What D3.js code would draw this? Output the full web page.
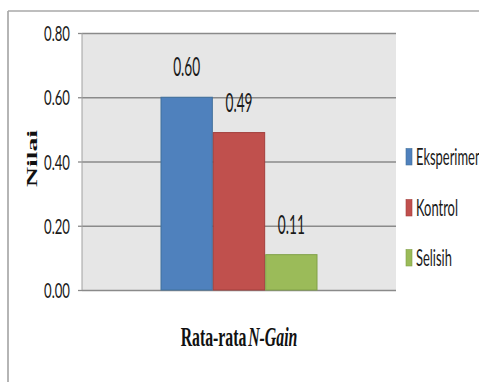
<!DOCTYPE html>
<html>
<head>
<meta charset="utf-8">
<script src="https://cdn.jsdelivr.net/npm/d3@7"></script>
<style>
  html, body { margin: 0; padding: 0; background: #fff; }
  svg { display: block; }
</style>
</head>
<body>
<svg id="chart" width="479" height="382"></svg>
<script>
// N-Gain averages per group
const categories = ["Rata-rata N-Gain"];
const series = ["Eksperimen", "Kontrol", "Selisih"];
const values = [0.60, 0.49, 0.11];
const seriesColors = ["#4F81BD", "#C0504D", "#9BBB59"];
const seriesStrokes = ["#41719C", "#A33F3C", "#80A048"];
const yTicks = [0.00, 0.20, 0.40, 0.60, 0.80];
const yTickLabels = ["0.00", "0.20", "0.40", "0.60", "0.80"];
const valueLabels = ["0.60", "0.49", "0.11"];

const svg = d3.select("#chart");
const W = 479, H = 382;
const plot = { left: 82, right: 396, top: 33, bottom: 290 };
const sansFont = "Lato, 'Open Sans', 'Liberation Sans', sans-serif";
const serifFont = "'Liberation Serif', 'Times New Roman', serif";

// Squeeze a text element horizontally so it spans the given width,
// anchored at (x, y) with the given alignment.
function fit(textSel, x, y, width, align) {
  const node = textSel.node();
  const len = node.getComputedTextLength();
  const sx = width / len;
  textSel.attr("x", 0).attr("y", 0)
    .attr("text-anchor", align)
    .attr("transform", `translate(${x},${y}) scale(${sx},1)`);
}

// chart frame
svg.append("rect").attr("width", W).attr("height", H).attr("fill", "#fff");
svg.append("line").attr("x1", 8).attr("x2", 8).attr("y1", 11).attr("y2", H)
  .attr("stroke", "#B5B5B5").attr("stroke-width", 2);
svg.append("line").attr("x1", 8).attr("x2", W).attr("y1", 11).attr("y2", 11)
  .attr("stroke", "#A8A8A8").attr("stroke-width", 1.5);

// scales
const y = d3.scaleLinear().domain([0, 0.8]).range([plot.bottom, plot.top]);
const x0 = d3.scaleBand().domain(categories).range([plot.left, plot.right])
  .paddingInner(0).paddingOuter(0.5);
const x1 = d3.scaleBand().domain(series).range([0, x0.bandwidth()]).padding(0);

// plot area
svg.append("rect")
  .attr("x", plot.left).attr("y", plot.top)
  .attr("width", plot.right - plot.left).attr("height", plot.bottom - plot.top)
  .attr("fill", "#E6E6E6");

// y axis with gridlines
const yAxis = d3.axisLeft(y).tickValues(yTicks)
  .tickSize(-(plot.right - plot.left)).tickFormat("");
const gy = svg.append("g").attr("transform", `translate(${plot.left},0)`).call(yAxis);
gy.select(".domain").remove();
gy.selectAll(".tick line").attr("stroke", "#8A8A8A").attr("stroke-width", 1.3);
// outer tick marks
gy.selectAll(".tick").append("line")
  .attr("x1", -4).attr("x2", 0).attr("stroke", "#8A8A8A").attr("stroke-width", 1.3);
// vertical axis line
svg.append("line")
  .attr("x1", plot.left).attr("x2", plot.left)
  .attr("y1", plot.top).attr("y2", plot.bottom)
  .attr("stroke", "#A0A0A0").attr("stroke-width", 1);

// tick labels
yTicks.forEach((t, i) => {
  const tx = svg.append("text")
    .attr("font-family", sansFont).attr("font-size", 21.5)
    .attr("fill", "#1a1a1a").text(yTickLabels[i]);
  fit(tx, 70, y(t) + 8, 26, "end");
});

// bars
const g = svg.append("g").attr("transform", `translate(${x0(categories[0])},0)`);
g.selectAll("rect.bar").data(values).join("rect")
  .attr("class", "bar")
  .attr("x", (d, i) => x1(series[i]) + 0.5)
  .attr("width", x1.bandwidth() - 1)
  .attr("y", d => y(d))
  .attr("height", d => y(0) - y(d))
  .attr("fill", (d, i) => seriesColors[i])
  .attr("stroke", (d, i) => seriesStrokes[i])
  .attr("stroke-width", 1);

// value labels
values.forEach((v, i) => {
  const t = g.append("text")
    .attr("font-family", sansFont).attr("font-size", 26)
    .attr("fill", "#1a1a1a").text(valueLabels[i]);
  fit(t, x1(series[i]) + x1.bandwidth() / 2, y(v) - 21, 27, "middle");
});

// axis titles
const xt = svg.append("text")
  .attr("font-family", serifFont).attr("font-size", 26.5)
  .attr("font-weight", "bold").attr("fill", "#111");
xt.append("tspan").text("Rata-rata");
xt.append("tspan").attr("dx", 3).attr("font-style", "italic").text("N-Gain");
fit(xt, (plot.left + plot.right) / 2, 346, 115, "middle");

const yt = svg.append("text")
  .attr("font-family", serifFont).attr("font-size", 15)
  .attr("font-weight", "bold").attr("fill", "#111").text("Nilai");
{
  const len = yt.node().getComputedTextLength();
  yt.attr("text-anchor", "middle")
    .attr("transform", `translate(37,158.5) rotate(-90) scale(${57 / len},1)`);
}

// legend
const legendBase = [165, 216, 266];
series.forEach((s, i) => {
  svg.append("rect")
    .attr("x", 406).attr("y", legendBase[i] - 16.5)
    .attr("width", 6).attr("height", 16.5)
    .attr("fill", seriesColors[i]).attr("stroke", seriesStrokes[i]).attr("stroke-width", 0.6);
  const t = svg.append("text")
    .attr("font-family", sansFont).attr("font-size", 24)
    .attr("fill", "#1a1a1a").text(s);
  t.attr("x", 0).attr("y", 0);
  // common horizontal squeeze for the legend, derived from the "Kontrol" entry width
  t.attr("data-len", t.node().getComputedTextLength());
});
{
  const texts = svg.selectAll("text[data-len]");
  const ref = texts.filter(function () { return d3.select(this).text() === "Kontrol"; });
  const sx = 42 / (+ref.attr("data-len"));
  texts.each(function (d, i) {
    d3.select(this).attr("text-anchor", "start")
      .attr("transform", `translate(416,${legendBase[i]}) scale(${sx},1)`);
  });
}
</script>
</body>
</html>
